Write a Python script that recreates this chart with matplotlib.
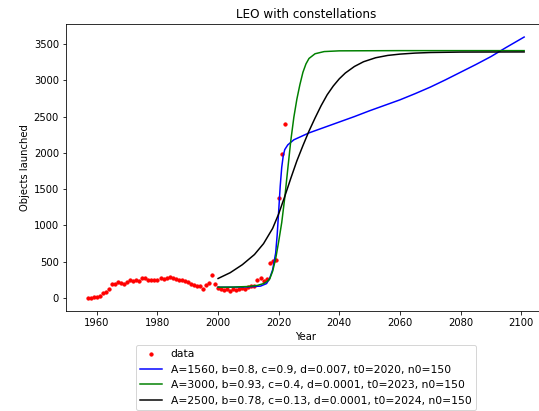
import matplotlib
matplotlib.use("Agg")
import matplotlib.pyplot as plt

# yearly objects launched to LEO
years = list(range(1957, 2023))
launched = [2, 5, 12, 20, 35, 70, 80, 120, 195, 200,
            215, 205, 190, 215, 255, 235, 245, 230, 270, 280,
            255, 250, 245, 245, 275, 265, 270, 285, 275, 262,
            252, 252, 235, 220, 193, 174, 160, 160, 124, 174,
            205, 325, 193, 140, 120, 110, 125, 100, 120, 110,
            130, 135, 130, 150, 160, 170, 250, 275, 240, 260,
            480, 505, 530, 1380, 1980, 2400]

# model curves, sampled by eye from the reference
blue_t = [2000, 2005, 2010, 2014, 2016, 2017, 2018, 2019, 2019.5, 2020, 2020.5,
          2021, 2021.5, 2022, 2023, 2025, 2030, 2035, 2040, 2045, 2050, 2055,
          2060, 2065, 2070, 2075, 2080, 2085, 2090, 2095, 2101]
blue_n = [150, 150, 155, 165, 200, 270, 390, 620, 870, 1200, 1540,
          1800, 1960, 2045, 2110, 2180, 2275, 2350, 2425, 2500, 2580, 2655,
          2730, 2815, 2905, 3005, 3110, 3215, 3325, 3450, 3595]

green_t = [2000, 2005, 2010, 2013, 2015, 2016, 2017, 2018, 2019, 2020, 2021, 2022,
           2023, 2024, 2025, 2026, 2027, 2028, 2029, 2030, 2032, 2035, 2040, 2060, 2101]
green_n = [150, 152, 160, 175, 200, 225, 260, 370, 540, 780, 1040, 1380,
           1780, 2170, 2490, 2740, 2940, 3110, 3225, 3300, 3365, 3395, 3405, 3408, 3408]

black_t = [2000, 2004, 2008, 2012, 2015, 2018, 2020, 2022, 2024, 2026, 2028, 2030,
           2032, 2034, 2036, 2038, 2040, 2042, 2045, 2048, 2052, 2056, 2060,
           2065, 2070, 2080, 2101]
black_n = [270, 350, 460, 600, 750, 960, 1160, 1400, 1650, 1890, 2100, 2300,
           2480, 2650, 2800, 2920, 3020, 3100, 3190, 3255, 3310, 3342, 3360,
           3374, 3382, 3388, 3390]

labels = ['data',
          'A=1560, b=0.8, c=0.9, d=0.007, t0=2020, n0=150',
          'A=3000, b=0.93, c=0.4, d=0.0001, t0=2023, n0=150',
          'A=2500, b=0.78, c=0.13, d=0.0001, t0=2024, n0=150']

fig = plt.figure(figsize=(539 / 72, 411 / 72), dpi=72)
ax = fig.add_axes([0.1224, 0.2433, 0.8905, 0.6983])

ax.plot(years, launched, 'r.', markersize=6.5, label=labels[0])
ax.plot(blue_t, blue_n, color='b', label=labels[1])
ax.plot(green_t, green_n, color='g', label=labels[2])
ax.plot(black_t, black_n, color='k', label=labels[3])

ax.set_title('LEO with constellations')
ax.set_xlabel('Year')
ax.set_ylabel('Objects launched')
ax.legend(loc='upper center', bbox_to_anchor=(0.5, -0.1), fontsize=10.8)

fig.savefig('out.png', dpi=72)
